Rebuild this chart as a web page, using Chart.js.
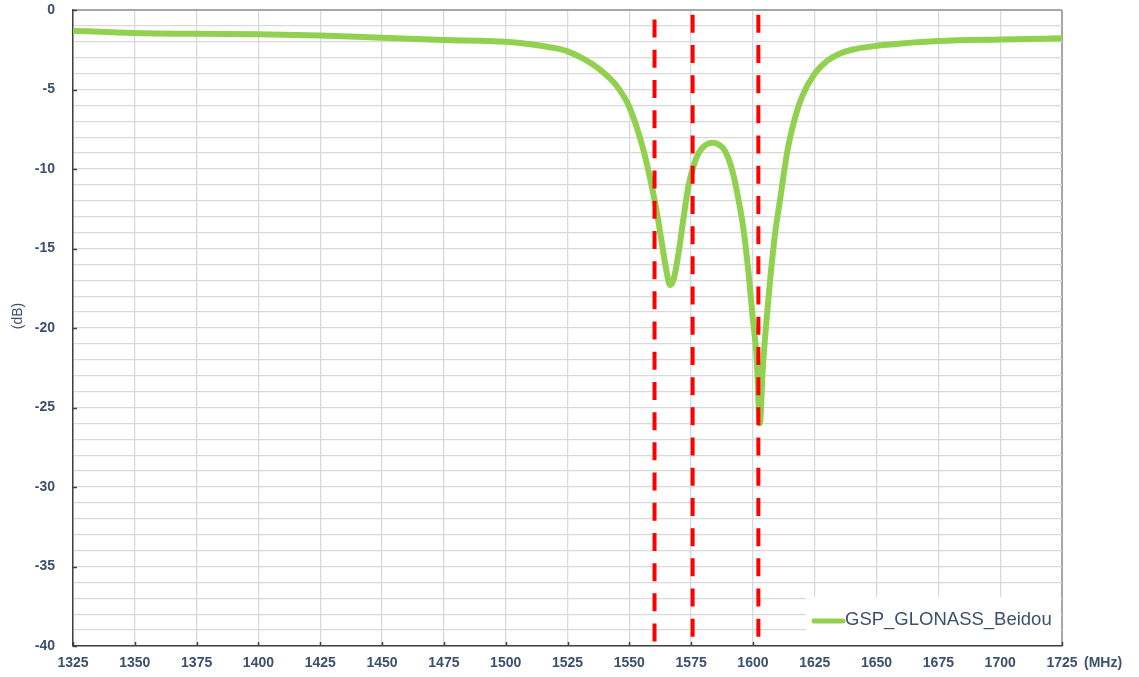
<!DOCTYPE html>
<html>
<head>
<meta charset="utf-8">
<script src="https://cdn.jsdelivr.net/npm/chart.js@4.4.1/dist/chart.umd.min.js"></script>
<style>
  html, body { margin: 0; padding: 0; background: #ffffff; }
  #wrap { width: 1139px; height: 677px; position: relative; }
</style>
</head>
<body>
<div id="wrap"><canvas id="c" width="1139" height="677"></canvas></div>
<script>
// ---- data ----
const frequencies = [1325, 1350, 1375, 1400, 1425, 1450, 1475, 1500, 1510, 1520, 1525, 1530, 1535, 1540, 1545, 1550, 1555, 1558, 1561, 1563, 1565, 1566.5, 1568, 1570, 1572, 1574, 1576, 1578, 1580, 1582, 1584, 1586, 1588, 1590, 1592, 1594, 1596, 1598, 1600, 1601.5, 1602.8, 1604, 1605.5, 1607, 1609, 1611, 1614, 1617, 1620, 1625, 1630, 1635, 1640, 1650, 1660, 1675, 1700, 1725];
const gainDb = [-1.3, -1.45, -1.5, -1.52, -1.6, -1.75, -1.88, -2.0, -2.15, -2.4, -2.6, -2.95, -3.4, -4.0, -4.8, -6.1, -8.4, -10.3, -12.6, -14.5, -16.4, -17.3, -16.9, -15.2, -13.0, -11.0, -9.8, -9.0, -8.6, -8.4, -8.35, -8.45, -8.7, -9.3, -10.3, -11.8, -13.6, -16.2, -19.5, -21.8, -26.0, -22.5, -19.5, -16.9, -14.0, -11.9, -8.8, -6.8, -5.4, -4.0, -3.2, -2.75, -2.5, -2.25, -2.1, -1.95, -1.85, -1.78];
const seriesName = 'GSP_GLONASS_Beidou';
const markerFreqs = [1560.2, 1575.6, 1602.2];
const markerTops = [-0.6, -0.3, -0.3];
const yMin = -40, yMax = 0, xMin = 1325, xMax = 1725;
const xUnit = '(MHz)';
const yUnit = '(dB)';

const textColor = '#3D4F6E';
const fontFamily = '"Liberation Sans", Arial, sans-serif';

const datasets = [{
  label: seriesName,
  data: frequencies.map((f, i) => ({ x: f, y: gainDb[i] })),
  borderColor: '#92D050',
  backgroundColor: '#92D050',
  borderWidth: 6,
  pointRadius: 0,
  cubicInterpolationMode: 'monotone',
  borderCapStyle: 'round',
  borderJoinStyle: 'round',
  order: 2
}];
markerFreqs.forEach((f, i) => {
  datasets.push({
    label: 'marker' + i,
    data: [{ x: f, y: markerTops[i] }, { x: f, y: yMin }],
    borderColor: '#FF0000',
    borderWidth: 4,
    borderDash: [18, 12.2],
    pointRadius: 0,
    order: 1
  });
});

const decor = {
  id: 'decor',
  afterDraw(chart) {
    const ctx = chart.ctx;
    const ca = chart.chartArea;
    const xs = chart.scales.x, ys = chart.scales.y;
    ctx.save();
    // inner tick marks
    ctx.strokeStyle = '#404040';
    ctx.lineWidth = 1.5;
    for (let v = yMin; v <= yMax; v += 5) {
      const py = Math.round(ys.getPixelForValue(v)) + 0.5;
      ctx.beginPath(); ctx.moveTo(ca.left, py); ctx.lineTo(ca.left + 4, py); ctx.stroke();
    }
    for (let v = xMin; v <= xMax; v += 25) {
      const px = Math.round(xs.getPixelForValue(v)) + 0.5;
      ctx.beginPath(); ctx.moveTo(px, ca.bottom); ctx.lineTo(px, ca.bottom - 4); ctx.stroke();
    }
    // legend box
    const bx = ca.right - 256, by = ca.bottom - 49;
    ctx.fillStyle = '#ffffff';
    ctx.fillRect(bx, by, ca.right - bx - 1, ca.bottom - by - 1);
    ctx.strokeStyle = '#92D050';
    ctx.lineWidth = 5;
    ctx.lineCap = 'round';
    ctx.beginPath(); ctx.moveTo(bx + 8, by + 24); ctx.lineTo(bx + 37, by + 24); ctx.stroke();
    ctx.fillStyle = textColor;
    ctx.font = '18.5px ' + fontFamily;
    ctx.textBaseline = 'middle';
    ctx.textAlign = 'left';
    ctx.fillText(seriesName, bx + 39, by + 23);
    // units
    ctx.font = 'bold 14px ' + fontFamily;
    ctx.textAlign = 'left';
    ctx.fillText(xUnit, ca.right + 22, ca.bottom + 17);
    ctx.translate(18, 316);
    ctx.rotate(-Math.PI / 2);
    ctx.textAlign = 'center';
    ctx.font = '14px ' + fontFamily;
    ctx.fillText(yUnit, 0, 0);
    ctx.restore();
  }
};

new Chart(document.getElementById('c'), {
  type: 'line',
  data: { datasets },
  options: {
    responsive: false,
    animation: false,
    layout: { padding: { top: 10, right: 77, left: 0, bottom: 0 } },
    plugins: { legend: { display: false }, tooltip: { enabled: false } },
    scales: {
      x: {
        type: 'linear',
        min: xMin, max: xMax,
        ticks: { stepSize: 25, color: textColor, font: { family: fontFamily, size: 14, weight: 'bold' }, padding: 9, maxRotation: 0, autoSkip: false,
          callback: (v) => String(v) },
        grid: {
          drawTicks: false,
          color: (c) => (c.tick && c.tick.value === xMax) ? '#A6A6A6' : '#D9D9D9',
          lineWidth: (c) => (c.tick && c.tick.value === xMax) ? 2 : 1.3
        },
        border: { color: '#404040', width: 1.5 },
        afterFit: (s) => { s.height = 31; s.paddingLeft = 0; s.paddingRight = 0; }
      },
      y: {
        type: 'linear',
        min: yMin, max: yMax,
        ticks: {
          stepSize: 1, color: textColor, font: { family: fontFamily, size: 14, weight: 'bold' }, padding: 18, autoSkip: false,
          callback: (v) => (v % 5 === 0 ? String(v) : '')
        },
        grid: {
          drawTicks: false,
          color: (c) => (c.tick && c.tick.value === yMax) ? '#A6A6A6' : '#D9D9D9',
          lineWidth: (c) => (c.tick && c.tick.value === yMax) ? 2 : 1.3
        },
        border: { color: '#404040', width: 1.5 },
        afterFit: (s) => { s.width = 73; s.paddingTop = 0; s.paddingBottom = 0; }
      }
    }
  },
  plugins: [decor]
});
</script>
</body>
</html>
